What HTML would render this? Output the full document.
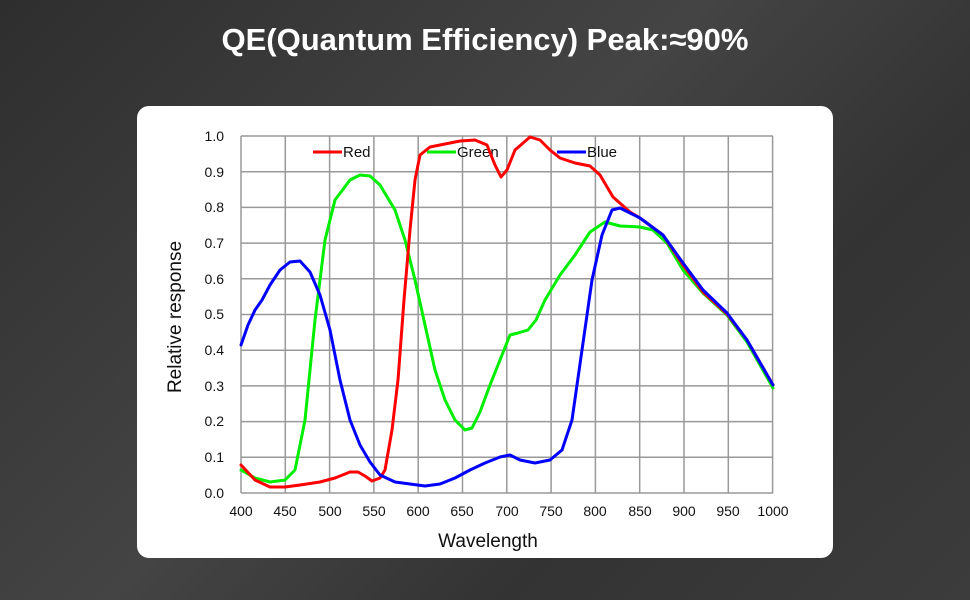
<!DOCTYPE html>
<html><head><meta charset="utf-8"><style>
body{margin:0;width:970px;height:600px;overflow:hidden;background:linear-gradient(135deg,#2e2e2e,#444 45%,#333 70%,#3c3c3c);font-family:"Liberation Sans",sans-serif;}
.t{position:absolute;left:0;width:970px;top:22px;text-align:center;color:#fff;font-weight:bold;font-size:31px;}
.card{position:absolute;left:137px;top:106px;width:696px;height:452px;background:#fff;border-radius:12px;}
svg{position:absolute;left:0;top:0}
</style></head><body>
<div class="t">QE(Quantum Efficiency) Peak:≈90%</div>
<div class="card"></div>
<svg width="970" height="600" font-family="Liberation Sans, sans-serif">
<g stroke="#999" stroke-width="1.5" fill="none">
<path d="M241 136H773M241 171.7H773M241 207.4H773M241 243.1H773M241 278.8H773M241 314.5H773M241 350.2H773M241 385.9H773M241 421.6H773M241 457.3H773M241 493H773"/>
<path d="M241 136V493M285.3 136V493M329.6 136V493M373.9 136V493M418.2 136V493M462.5 136V493M506.8 136V493M551.1 136V493M595.4 136V493M639.7 136V493M684 136V493M728.3 136V493M772.6 136V493"/>
</g>
<g font-size="14" fill="#111" text-anchor="end">
<text x="224" y="141">1.0</text><text x="224" y="177">0.9</text><text x="224" y="212">0.8</text><text x="224" y="248">0.7</text><text x="224" y="284">0.6</text><text x="224" y="319">0.5</text><text x="224" y="355">0.4</text><text x="224" y="391">0.3</text><text x="224" y="426">0.2</text><text x="224" y="462">0.1</text><text x="224" y="498">0.0</text>
</g>
<g font-size="14" fill="#111" text-anchor="middle">
<text x="241" y="516">400</text><text x="285" y="516">450</text><text x="330" y="516">500</text><text x="374" y="516">550</text><text x="418" y="516">600</text><text x="462" y="516">650</text><text x="507" y="516">700</text><text x="551" y="516">750</text><text x="595" y="516">800</text><text x="640" y="516">850</text><text x="684" y="516">900</text><text x="728" y="516">950</text><text x="773" y="516">1000</text>
</g>
<text x="488" y="547" font-size="19" fill="#111" text-anchor="middle">Wavelength</text>
<text transform="translate(181,317) rotate(-90)" font-size="19" fill="#111" text-anchor="middle">Relative response</text>
<g font-size="15" fill="#111">
<line x1="313" y1="152" x2="342" y2="152" stroke="#f00" stroke-width="3"/><text x="343" y="157">Red</text>
<line x1="427" y1="152" x2="456" y2="152" stroke="#0e0" stroke-width="3"/><text x="457" y="157">Green</text>
<line x1="557" y1="152" x2="586" y2="152" stroke="#00f" stroke-width="3"/><text x="587" y="157">Blue</text>
</g>
<g fill="none" stroke-width="3" stroke-linejoin="round" stroke-linecap="round">
<polyline stroke="#0e0" points="241,470 255,478 270,482 285,480 295,470 305,420 315,320 325,240 335,200 350,180 360,175 370,176 380,185 395,210 405,240 415,280 425,325 435,370 445,400 455,420 465,430 472,428 480,412 490,385 500,360 510,335 518,333 528,330 536,320 545,300 560,275 575,255 590,232 605,222 620,226 640,227 653,230 667,243 683,270 703,293 727,315 747,342 773,388"/>
<polyline stroke="#f00" points="241,465 255,480 270,487 285,487 300,485 320,482 335,478 350,472 358,472 365,476 372,481 380,478 385,470 392,430 398,380 404,300 410,230 415,180 420,155 430,147 440,145 460,141 475,140 487,145 495,165 501,177 507,170 515,150 530,137 540,140 550,150 560,158 575,163 590,166 600,175 613,197 630,212 640,218 663,235 683,265 703,292 727,314 747,340 773,385"/>
<polyline stroke="#00f" points="241,345 248,325 255,310 262,300 270,285 280,270 290,262 300,261 310,272 320,295 330,330 340,380 350,420 360,445 370,462 380,475 395,482 410,484 425,486 440,484 455,478 470,470 485,463 500,457 510,455 520,460 535,463 550,460 562,450 572,420 582,350 592,280 602,235 612,210 620,208 630,213 640,218 663,235 683,263 703,290 727,313 747,340 773,385"/>
</g>
</svg>
</body></html>
